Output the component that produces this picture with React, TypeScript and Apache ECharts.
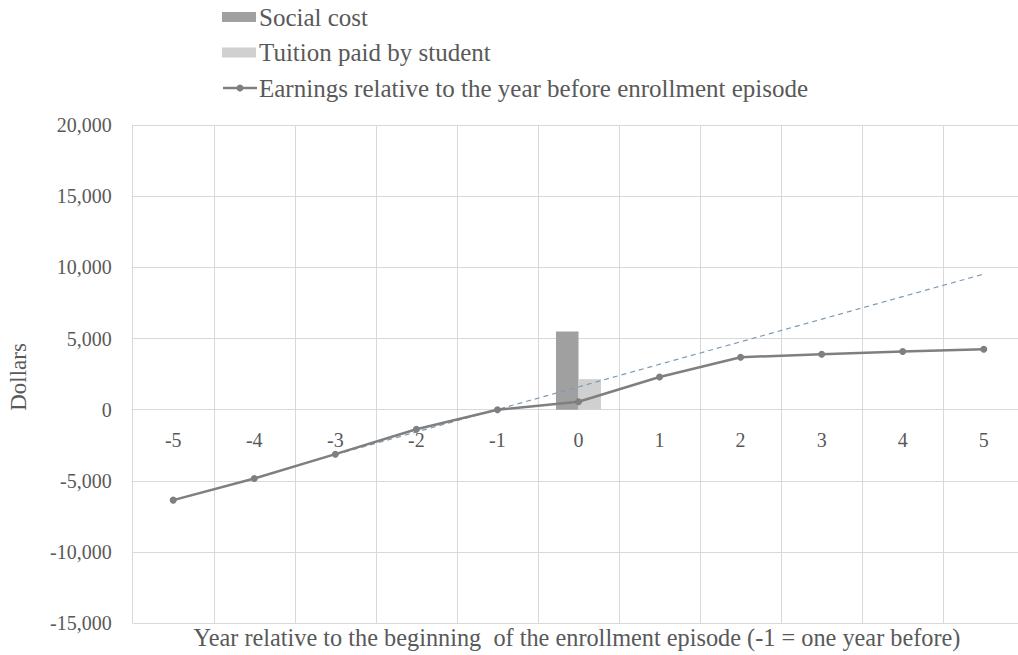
import React, { useEffect, useRef } from "react";
import * as echarts from "echarts";

const categories = ["-5", "-4", "-3", "-2", "-1", "0", "1", "2", "3", "4", "5"];
const socialCost = [null, null, null, null, null, 5500, null, null, null, null, null];
const tuitionPaid = [null, null, null, null, null, 2150, null, null, null, null, null];
const earnings = [-6350, -4830, -3120, -1370, 0, 560, 2300, 3690, 3900, 4090, 4250];
const trend = [null, null, -3150, null, null, null, null, null, null, null, 9530];
const yTicks = { min: -15000, max: 20000, interval: 5000 };
const legendNames = [
  "Social cost",
  "Tuition paid by student",
  "Earnings relative to the year before enrollment episode",
];

const FONT = "Liberation Serif";
const TEXT = "#595959";
const GRID = "#d9d9d9";
const C_SOCIAL = "#a0a0a0";
const C_TUITION = "#d0d0d0";
const C_LINE = "#7f7f7f";

export default function App() {
  const ref = useRef<HTMLDivElement>(null);
  useEffect(() => {
    if (!ref.current) return;
    const chart = echarts.init(ref.current, undefined, { renderer: "svg" });
    const rowY = [17, 52.5, 88];
    const legendTextStyle = (t: string, y: number) => ({
      type: "text",
      x: 259,
      y,
      style: {
        text: t,
        fontFamily: FONT,
        fontSize: 25,
        fill: TEXT,
        align: "left",
        verticalAlign: "middle",
      },
    });
    chart.setOption({
      animation: false,
      backgroundColor: "#ffffff",
      textStyle: { fontFamily: FONT },
      grid: {
        left: 132.7,
        top: 125,
        width: 891.6,
        height: 498.3,
        containLabel: false,
        outerBoundsMode: "none",
      },
      xAxis: {
        type: "category",
        data: categories,
        boundaryGap: true,
        axisTick: { show: false },
        axisLine: { show: false, onZero: false },
        splitLine: { show: true, lineStyle: { color: GRID, width: 1 } },
        axisLabel: { fontFamily: FONT, fontSize: 20, color: TEXT, margin: -193 },
      },
      yAxis: {
        type: "value",
        min: yTicks.min,
        max: yTicks.max,
        interval: yTicks.interval,
        axisLine: { show: false },
        axisTick: { show: false },
        splitLine: { show: true, lineStyle: { color: GRID, width: 1 } },
        axisLabel: {
          fontFamily: FONT,
          fontSize: 20,
          color: TEXT,
          margin: 21,
          formatter: (v: number) => v.toLocaleString("en-US"),
        },
      },
      graphic: [
        {
          type: "rect",
          shape: { x: 222, y: rowY[0] - 5, width: 34, height: 10 },
          style: { fill: C_SOCIAL },
        },
        legendTextStyle(legendNames[0], rowY[0]),
        {
          type: "rect",
          shape: { x: 222, y: rowY[1] - 5, width: 34, height: 10 },
          style: { fill: C_TUITION },
        },
        legendTextStyle(legendNames[1], rowY[1]),
        {
          type: "line",
          shape: { x1: 223, y1: rowY[2], x2: 257, y2: rowY[2] },
          style: { stroke: C_LINE, lineWidth: 2.5 },
        },
        {
          type: "circle",
          shape: { cx: 240, cy: rowY[2], r: 3.5 },
          style: { fill: C_LINE },
        },
        legendTextStyle(legendNames[2], rowY[2]),
        {
          type: "text",
          x: 577,
          y: 637,
          style: {
            text: "Year relative to the beginning  of the enrollment episode (-1 = one year before)",
            fontFamily: FONT,
            fontSize: 24.3,
            fill: TEXT,
            align: "center",
            verticalAlign: "middle",
          },
        },
        {
          type: "text",
          x: 18.5,
          y: 377,
          rotation: Math.PI / 2,
          style: {
            text: "Dollars",
            fontFamily: FONT,
            fontSize: 23,
            fill: TEXT,
            align: "center",
            verticalAlign: "middle",
          },
        },
      ],
      series: [
        {
          name: legendNames[0],
          type: "bar",
          data: socialCost,
          barWidth: 22.5,
          barGap: "0%",
          itemStyle: { color: C_SOCIAL },
        },
        {
          name: legendNames[1],
          type: "bar",
          data: tuitionPaid,
          barWidth: 22.5,
          barGap: "0%",
          itemStyle: { color: C_TUITION },
        },
        {
          name: "trend",
          type: "line",
          data: trend,
          connectNulls: true,
          symbol: "none",
          z: 3,
          lineStyle: { color: "#7d9ab6", width: 1.2, type: [5, 4] },
        },
        {
          name: legendNames[2],
          type: "line",
          data: earnings,
          symbol: "circle",
          symbolSize: 7,
          z: 4,
          itemStyle: { color: C_LINE },
          lineStyle: { color: C_LINE, width: 2.5 },
        },
      ],
    });
    return () => chart.dispose();
  }, []);
  return (
    <div
      ref={ref}
      style={{ position: "fixed", left: 0, top: 0, width: 1018, height: 655, background: "#fff" }}
    />
  );
}
